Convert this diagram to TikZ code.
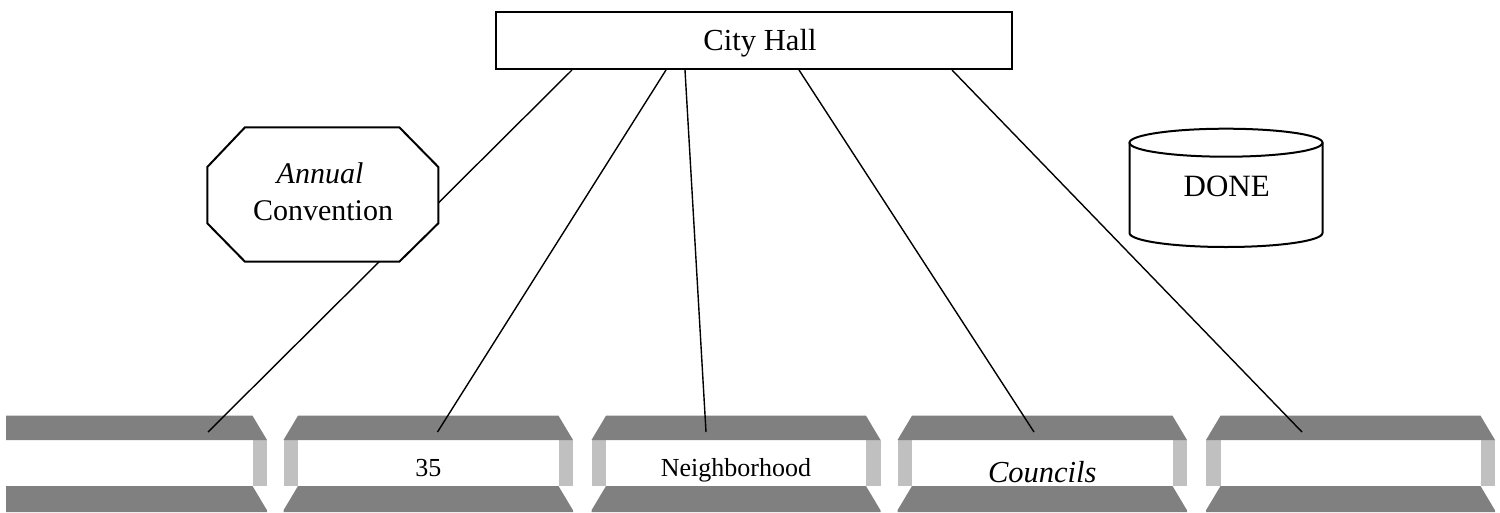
\documentclass[tikz,border=0pt]{standalone}
\usepackage{fontspec}
\setmainfont{Liberation Serif}
\usetikzlibrary{calc}
\definecolor{bandgray}{HTML}{808080}
\definecolor{sidegray}{HTML}{C0C0C0}
\newcommand\fsz[1]{\fontsize{#1}{#1}\selectfont}
% bevelled tray: #1 = left edge, #2 = right edge
\newcommand\bevelframe[2]{%
  \fill[sidegray] (#1,440) rectangle (#1+14.5,486);
  \fill[sidegray] (#2-14.5,440) rectangle (#2,486);
  \fill[bandgray] (#1+14.5,415.7) -- (#2-14.5,415.7) -- (#2,440) -- (#1,440) -- cycle;
  \fill[bandgray] (#1+14.5,486) -- (#2-14.5,486) -- (#2,510.3) -- (#2,512) -- (#1,512) -- (#1,510.3) -- cycle;
}
\begin{document}
\begin{tikzpicture}[x=1pt,y=-1pt,
  link/.style={line width=1.4pt},
  outline/.style={draw,line width=2pt},
  label/.style={anchor=base,inner sep=0pt}]
\useasboundingbox (0,0) rectangle (1500,512);

% row of bevelled trays
\begin{scope}
  \clip (6,0) rectangle (1500,512);
  \bevelframe{-22}{267}
  \bevelframe{283.5}{573}
  \bevelframe{591.5}{880.5}
  \bevelframe{897.5}{1187}
  \bevelframe{1206}{1495}
\end{scope}

\node[label,font={\fsz{26}}] (box2) at (428.25,476) {35};
\node[label,font={\fsz{26}}] (box3) at (736,476) {Neighborhood};
\node[label,font={\fsz{30.5}\itshape}] (box4) at (1042.25,482) {Councils};

\coordinate (top1) at (208,432);
\coordinate (top2) at (437.5,432);
\coordinate (top3) at (706,432);
\coordinate (top4) at (1034,432);
\coordinate (top5) at (1302,432);

% city hall
\node[outline,fill=white,minimum width=516pt,minimum height=57pt,inner sep=0pt,
      text height=22pt,text depth=3pt,font={\fsz{30.6}}] (hall) at (754,40.5)
      {\hspace*{12pt}City Hall};

% connectors
\draw[link] ($(hall.south)+(-182,0)$) -- (top1);
\draw[link] ($(hall.south)+(-88,0)$) -- (top2);
\draw[link] ($(hall.south)+(-69,0)$) -- (top3);
\draw[link] ($(hall.south)+(45,0)$) -- (top4);
\draw[link] ($(hall.south)+(198,0)$) -- (top5);

% octagon over the first connector
\draw[outline,fill=white] (245,127.3) -- (399.3,127.3) -- (438.3,167) -- (438.3,223.3)
  -- (399.3,261.7) -- (245,261.7) -- (207.3,223.3) -- (207.3,167) -- cycle;
\node[label,font={\fsz{30}\itshape}] (annual) at (320,183.3) {Annual};
\node[label,font={\fsz{30}}] (convention) at (323,220) {Convention};

% cylinder
\draw[line width=2pt] (1129.5,142.7) -- (1129.5,233) arc (180:360:96.5pt and 14pt) -- (1322.5,142.7);
\draw[line width=2pt] (1226,142.7) ellipse [x radius=96.5pt,y radius=14pt];
\node[label,font={\fsz{31}}] (done) at (1226.7,196) {DONE};
\end{tikzpicture}
\end{document}
